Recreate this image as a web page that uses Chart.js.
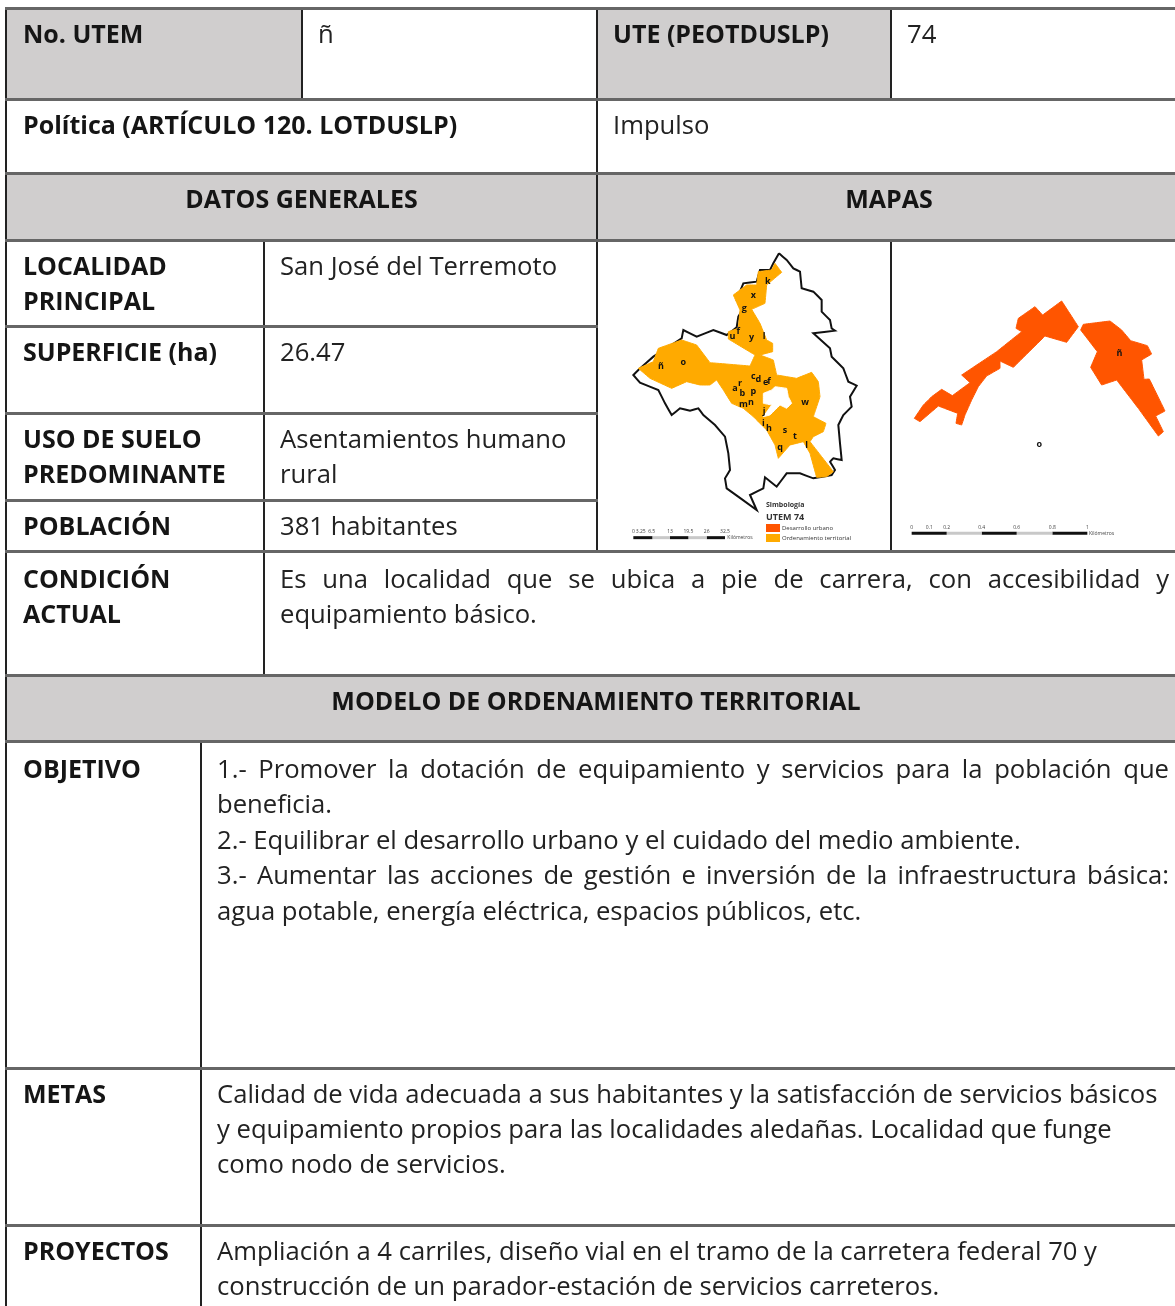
<!DOCTYPE html>
<html lang="es">
<head>
<meta charset="utf-8">
<title>UTEM ñ</title>
<script src="https://cdn.jsdelivr.net/npm/chart.js"></script>
<style>
html, body { margin: 0; background: #fff; width: 1175px; height: 1306px; overflow: hidden; }
#ficha { position: absolute; left: 5px; top: 7px; border-collapse: collapse; table-layout: fixed; width: 1180px;
  font: 25.65px/35px "Open Sans", sans-serif; color: #222; filter: blur(0.45px); }
#ficha td { border-top: 3px solid #666; border-bottom: 3px solid #666; border-left: 2px solid #222; border-right: 2px solid #222;
  padding: 6px 16px 0; vertical-align: top; box-sizing: border-box; overflow: hidden; white-space: nowrap; }
#ficha td + td { padding-left: 15px; }
#ficha td.g { background: #d0cece; }
#ficha td.b { font-weight: 700; font-size: 25px; color: #151515; }
#ficha td.c { text-align: center; vertical-align: middle; padding-top: 0; padding-bottom: 17px; }
#ficha td.bajo { padding-top: 8px; }
#ficha td#h4 { padding-right: 20px; }
#t0 { line-height: 35.4px; }
.j { text-align: justify; text-align-last: justify; white-space: normal; }
.mapa { position: absolute; filter: blur(0.6px); }
.mapa canvas { display: block; }
.ley { position: absolute; white-space: nowrap; font-family: "Open Sans", sans-serif; color: #333; filter: blur(0.6px); }
.cuadro { position: absolute; width: 14px; height: 8px; filter: blur(0.4px); }
</style>
</head>
<body>
<table id="ficha">
<colgroup><col style="width:195px"><col style="width:63px"><col style="width:38px"><col style="width:295px"><col style="width:294px"><col style="width:295px"></colgroup>
<tr style="height:91px"><td colspan="3" class="g b" id="h0"></td><td id="v0"></td><td class="g b" id="h1"></td><td id="v1"></td></tr>
<tr style="height:74px"><td colspan="4" class="b" id="h2"></td><td colspan="2" id="v2"></td></tr>
<tr style="height:67px"><td colspan="4" class="g b c" id="h3"></td><td colspan="2" class="g b c" id="h4"></td></tr>
<tr style="height:86px"><td colspan="2" class="b" id="l0"></td><td colspan="2" id="d0"></td><td rowspan="4"></td><td rowspan="4"></td></tr>
<tr style="height:87px"><td colspan="2" class="b" id="l1"></td><td colspan="2" id="d1"></td></tr>
<tr style="height:87px"><td colspan="2" class="b" id="l2"></td><td colspan="2" id="d2"></td></tr>
<tr style="height:51px"><td colspan="2" class="b" id="l3"></td><td colspan="2" id="d3"></td></tr>
<tr style="height:124px"><td colspan="2" class="b bajo" id="l4"></td><td colspan="4" class="bajo" id="d4"></td></tr>
<tr style="height:66px"><td colspan="6" class="g b c" id="h5"></td></tr>
<tr style="height:327px"><td class="b bajo" id="m0"></td><td colspan="5" class="bajo" id="t0"></td></tr>
<tr style="height:157px"><td class="b" id="m1"></td><td colspan="5" id="t1"></td></tr>
<tr style="height:100px"><td class="b" id="m2"></td><td colspan="5" id="t2"></td></tr>
</table>

<div class="mapa" style="left:600px;top:240px"><canvas id="mapaMunicipio" width="290" height="315"></canvas></div>
<div class="mapa" style="left:890px;top:280px"><canvas id="mapaLocalidad" width="285" height="270"></canvas></div>

<div class="ley" style="left:766px;top:500px;font-size:7px;line-height:10px;font-weight:700">Simbología</div>
<div class="ley" style="left:766px;top:511px;font-size:9px;line-height:12px;font-weight:700">UTEM 74</div>
<div class="cuadro" style="left:766px;top:524px;background:#ff5500"></div>
<div class="cuadro" style="left:766px;top:534px;background:#ffaa00"></div>
<div class="ley" style="left:782px;top:523px;font-size:6px;line-height:10px">Desarrollo urbano</div>
<div class="ley" style="left:782px;top:533px;font-size:6px;line-height:10px">Ordenamiento territorial</div>

<script>
const headLabels = ['No. UTEM', 'UTE (PEOTDUSLP)', 'Política (ARTÍCULO 120. LOTDUSLP)', 'DATOS GENERALES', 'MAPAS', 'MODELO DE ORDENAMIENTO TERRITORIAL']
const headValues = ['ñ', '74', 'Impulso']
const generalLabels = [['LOCALIDAD', 'PRINCIPAL'], ['SUPERFICIE (ha)'], ['USO DE SUELO', 'PREDOMINANTE'], ['POBLACIÓN'], ['CONDICIÓN', 'ACTUAL']]
const generalValues = [['San José del Terremoto'], ['26.47'], ['Asentamientos humano', 'rural'], ['381 habitantes'],
    ['*Es una localidad que se ubica a pie de carrera, con accesibilidad y', 'equipamiento básico.']]
const modelLabels = ['OBJETIVO', 'METAS', 'PROYECTOS']
const objetivoLines = ['*1.- Promover la dotación de equipamiento y servicios para la población que', 'beneficia.',
    '2.- Equilibrar el desarrollo urbano y el cuidado del medio ambiente.',
    '*3.- Aumentar las acciones de gestión e inversión de la infraestructura básica:',
    'agua potable, energía eléctrica, espacios públicos, etc.']
const metasLines = ['Calidad de vida adecuada a sus habitantes y la satisfacción de servicios básicos',
    'y equipamiento propios para las localidades aledañas. Localidad que funge', 'como nodo de servicios.']
const proyectosLines = ['Ampliación a 4 carriles, diseño vial en el tramo de la carretera federal 70 y',
    'construcción de un parador-estación de servicios carreteros.']

const municipioOutline = [[537,40],[560,60],[580,85],[600,95],[605,145],[640,155],[665,180],[665,215],[690,240],[695,265],[705,272],[640,280],[690,325],[695,350],[730,385],[745,425],[770,437],[750,470],[755,500],[730,525],[715,555],[720,610],[725,660],[700,655],[690,665],[705,690],[695,705],[640,715],[600,700],[560,700],[530,740],[495,712],[490,745],[450,765],[470,810],[380,745],[375,715],[390,690],[385,640],[375,590],[345,555],[310,525],[295,505],[270,512],[240,505],[215,525],[195,490],[175,450],[120,428],[100,405],[115,390],[160,350],[245,295],[250,270],[290,290],[340,270],[380,285],[410,262],[415,230],[430,205],[410,180],[430,130],[470,125],[480,90],[510,90],[520,70]]
const ordenamiento = [[525,70],[545,97],[500,135],[495,190],[455,208],[480,250],[500,300],[518,310],[518,335],[480,345],[520,360],[530,405],[590,415],[635,397],[655,425],[660,470],[640,530],[678,550],[670,575],[640,590],[630,605],[700,695],[680,710],[650,712],[630,640],[610,605],[570,615],[535,655],[525,615],[500,570],[460,530],[430,505],[395,490],[370,450],[350,420],[330,435],[300,435],[260,425],[215,445],[150,415],[115,385],[160,365],[175,325],[245,300],[290,315],[330,368],[450,378],[465,345],[385,297],[385,275],[415,265],[420,210],[400,165],[440,135],[470,135],[475,95],[515,90]]
const ordenamientoHueco = [[490,460],[515,450],[525,440],[560,445],[565,470],[575,490],[560,505],[540,495],[525,510],[510,525],[490,530],[515,495],[490,490]]
const localidadOeste = [[73,415],[100,375],[125,350],[155,328],[187,347],[240,308],[215,285],[320,215],[395,155],[378,145],[385,115],[435,80],[458,105],[515,63],[565,140],[530,187],[465,168],[370,262],[330,243],[330,265],[290,288],[265,320],[245,360],[225,405],[215,435],[198,430],[203,400],[145,378],[90,425]]
const localidadEste = [[572,150],[580,133],[660,123],[695,150],[722,182],[772,197],[785,222],[755,240],[762,298],[778,297],[825,393],[797,408],[820,455],[805,468],[745,385],[680,300],[635,315],[602,262],[622,215]]

const municipioLetters = [['k',503,125],['x',460,167],['g',433,205],['u',397,290],['f',415,275],['y',455,293],['l',492,288],['o',250,366],['ñ',183,380],['c',460,410],['d',475,418],['e',497,428],['f',507,425],['r',420,430],['a',405,445],['b',427,460],['p',460,455],['m',430,493],['n',453,487],['j',492,513],['w',615,488],['i',490,550],['h',507,565],['s',555,570],['t',585,590],['l',620,617],['q',540,622]]
const localidadLetters = [['ñ',688,220],['o',448,493]]

const municipioScale = [100, 157, 210, 265, 320, 375]
const municipioScaleLabels = [['0',100],['3.25',122],['6.5',155],['13',210],['19.5',265],['26',320],['32.5',375]]
const localidadScale = [65, 170, 275, 380, 487, 592]
const localidadScaleLabels = [['0',65],['0.1',118],['0.2',170],['0.4',275],['0.6',380],['0.8',487],['1',592]]

function lines(arr) {
    return arr.map(t => t[0] === '*' ? `<div class="j">${t.slice(1)}</div>` : `<div>${t}</div>`).join('')
}
headLabels.forEach((t, i) => document.getElementById('h' + i).textContent = t)
headValues.forEach((t, i) => document.getElementById('v' + i).textContent = t)
generalLabels.forEach((t, i) => document.getElementById('l' + i).innerHTML = lines(t))
generalValues.forEach((t, i) => document.getElementById('d' + i).innerHTML = lines(t))
modelLabels.forEach((t, i) => document.getElementById('m' + i).textContent = t)
document.getElementById('t0').innerHTML = lines(objetivoLines)
document.getElementById('t1').innerHTML = lines(metasLines)
document.getElementById('t2').innerHTML = lines(proyectosLines)

function ring(pts) {
    return pts.concat([pts[0]]).map(p => ({ x: p[0], y: p[1] }))
}
function area(pts, color) {
    return { data: ring(pts), borderColor: color, backgroundColor: color, borderWidth: 1, fill: 'shape', showLine: true, pointRadius: 0 }
}
function scaleBar(stops, y) {
    return stops.slice(1).map((s, i) => ({
        data: [{ x: stops[i], y: y }, { x: s, y: y }],
        borderColor: i % 2 ? '#c8c8c8' : '#111', borderWidth: 3, showLine: true, pointRadius: 0
    }))
}

// letras y rotulos de la escala sobre las escalas del chart
const mapText = {
    id: 'mapText',
    afterDatasetsDraw(chart, args, opts) {
        const { ctx, scales } = chart
        ctx.save()
        ctx.textAlign = 'center'
        ctx.textBaseline = 'middle'
        ctx.fillStyle = '#111'
        ctx.font = 'bold 9px "Open Sans"'
        opts.letters.forEach(l => ctx.fillText(l[0], scales.x.getPixelForValue(l[1]), scales.y.getPixelForValue(l[2])))
        ctx.font = '5px "Open Sans"'
        ctx.fillStyle = '#444'
        opts.ticks.forEach(l => ctx.fillText(l[0], scales.x.getPixelForValue(l[1]), scales.y.getPixelForValue(opts.tickY)))
        ctx.textAlign = 'left'
        ctx.fillText('Kilómetros', scales.x.getPixelForValue(opts.unitX), scales.y.getPixelForValue(opts.unitY))
        ctx.restore()
    }
}

function drawMap(id, datasets, xMax, yMax, textOpts) {
    new Chart(document.getElementById(id), {
        type: 'scatter',
        data: { datasets: datasets },
        plugins: [mapText],
        options: {
            responsive: false,
            animation: false,
            layout: { padding: 0 },
            // tension minima: sin ella chart.js junta vertices de la misma columna de pixeles
            elements: { line: { tension: 0.001 } },
            scales: {
                x: { type: 'linear', min: 0, max: xMax, display: false },
                y: { type: 'linear', min: 0, max: yMax, reverse: true, display: false }
            },
            plugins: { legend: { display: false }, tooltip: { enabled: false }, mapText: textOpts }
        }
    })
}

drawMap('mapaMunicipio', [
    ...scaleBar(municipioScale, 893),
    area(ordenamientoHueco, '#fff'),
    area(ordenamiento, '#ffaa00'),
    { data: ring(municipioOutline), borderColor: '#111', borderWidth: 2, showLine: true, pointRadius: 0 }
], 870, 945, { letters: municipioLetters, ticks: municipioScaleLabels, tickY: 876, unitX: 382, unitY: 893 })

drawMap('mapaLocalidad', [
    ...scaleBar(localidadScale, 760),
    area(localidadOeste, '#ff5500'),
    area(localidadEste, '#ff5500')
], 855, 810, { letters: localidadLetters, ticks: localidadScaleLabels, tickY: 742, unitX: 597, unitY: 760 })
</script>
</body>
</html>
